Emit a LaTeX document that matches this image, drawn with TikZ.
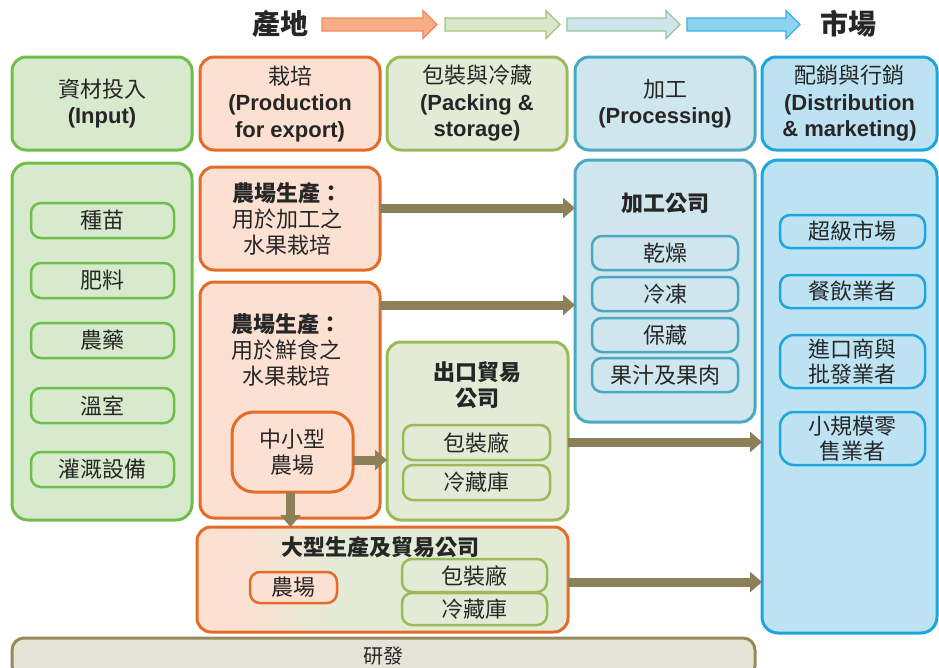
\documentclass[tikz,border=0pt]{standalone}
\usepackage{fontspec}
\setmainfont{Liberation Sans}
\newfontfamily\cjk{Noto Sans CJK TC}
\usetikzlibrary{arrows.meta,calc}
\definecolor{txt}{HTML}{262626}
\definecolor{greenB}{HTML}{6EBE49}
\definecolor{greenF}{HTML}{D8EACD}
\definecolor{orangeB}{HTML}{E46C28}
\definecolor{orangeF}{HTML}{FCE1D3}
\definecolor{oliveB}{HTML}{9BBB59}
\definecolor{oliveF}{HTML}{E3EBD7}
\definecolor{tealB}{HTML}{4BA8C0}
\definecolor{tealF}{HTML}{CFE6EE}
\definecolor{blueB}{HTML}{1DA5DF}
\definecolor{blueF}{HTML}{BDE3F3}
\definecolor{resB}{HTML}{958B5A}
\definecolor{resF}{HTML}{E6E3D9}
\definecolor{arrowc}{HTML}{8C8058}
\definecolor{a1F}{HTML}{F8AD86}\definecolor{a1B}{HTML}{EE8C5A}
\definecolor{a2F}{HTML}{DAE7CB}\definecolor{a2B}{HTML}{A5C27A}
\definecolor{a3F}{HTML}{CDE6EE}\definecolor{a3B}{HTML}{9CC59A}
\definecolor{a4F}{HTML}{8DD3F0}\definecolor{a4B}{HTML}{3AB0E2}
\pgfdeclarehorizontalshading{orgreen}{100bp}{color(0bp)=(orangeF); color(25bp)=(orangeF); color(31bp)=(orangeF); color(44bp)=(oliveF); color(100bp)=(oliveF)}
\begin{document}
\begin{tikzpicture}[x=1pt,y=-1pt,
  every node/.style={inner sep=0pt, outer sep=0pt, text=txt, align=center,
    font=\cjk\fontsize{22}{26}\selectfont},
  bigbox/.style={line width=3pt, rounded corners=14pt, anchor=north west},
  item/.style={line width=2.5pt, rounded corners=10pt, anchor=north west},
  gb/.style={draw=greenB, fill=greenF},
  ob/.style={draw=orangeB, fill=orangeF},
  lb/.style={draw=oliveB, fill=oliveF},
  tb/.style={draw=tealB, fill=tealF},
  bb/.style={draw=blueB, fill=blueF},
  ttl/.style={font=\cjk\bfseries\fontsize{22}{26}\selectfont},
  hdr/.style={font=\cjk\fontsize{22}{26.5}\selectfont},
  conn/.style={draw=arrowc, line width=9pt, -{Triangle[length=12pt,width=20pt]}}
]
\useasboundingbox (0,0) rectangle (939,667);

% top titles and flow arrows
\node[font=\cjk\bfseries\fontsize{28}{30}\selectfont] (tsrc) at (280,24) {產地};
\node[font=\cjk\bfseries\fontsize{28}{30}\selectfont] (tdst) at (848,24) {市場};
\foreach \a/\b/\f/\d in {322/437/a1F/a1B, 445/560/a2F/a2B, 567/680/a3F/a3B, 687/800/a4F/a4B}{
  \draw[draw=\d, fill=\f, line width=1.2pt, line join=miter]
    (\a,18) -- (\b-14,18) -- (\b-14,10.5) -- (\b,24.5) -- (\b-14,38.5) -- (\b-14,31) -- (\a,31) -- cycle;
}

% headers
\node[bigbox, gb, minimum width=180pt, minimum height=93pt] (h1) at (12,57) {};
\node[bigbox, ob, minimum width=180pt, minimum height=93pt] (h2) at (200,57) {};
\node[bigbox, lb, minimum width=180pt, minimum height=93pt] (h3) at (387,57) {};
\node[bigbox, tb, minimum width=180pt, minimum height=93pt] (h4) at (575,57) {};
\node[bigbox, bb, minimum width=175pt, minimum height=93pt] (h5) at (762,57) {};
\node[hdr] (h1t) at (h1.center) {資材投入\\{\rmfamily\bfseries (Input)}};
\node[hdr] (h2t) at (h2.center) {栽培\\{\rmfamily\bfseries (Production}\\{\rmfamily\bfseries for export)}};
\node[hdr] (h3t) at (h3.center) {包裝與冷藏\\{\rmfamily\bfseries (Packing \&}\\{\rmfamily\bfseries storage)}};
\node[hdr] (h4t) at (h4.center) {加工\\{\rmfamily\bfseries (Processing)}};
\node[hdr] (h5t) at (h5.center) {配銷與行銷\\{\rmfamily\bfseries (Distribution}\\{\rmfamily\bfseries \& marketing)}};

% inputs column
\node[bigbox, gb, rounded corners=16pt, minimum width=180pt, minimum height=357pt] (inp) at (12,163) {};
\node[item, gb, minimum width=143pt, minimum height=35pt] (i1) at (31,203) {種苗};
\node[item, gb, minimum width=143pt, minimum height=35pt] (i2) at (31,263) {肥料};
\node[item, gb, minimum width=143pt, minimum height=35pt] (i3) at (31,323) {農藥};
\node[item, gb, minimum width=143pt, minimum height=35pt] (i4) at (31,388) {溫室};
\node[item, gb, minimum width=143pt, minimum height=35pt] (i5) at (31,452) {灌溉設備};

% production column
\node[bigbox, ob, minimum width=180pt, minimum height=103pt] (pa) at (200,167) {};
\node (pat) at ($(pa.center)+(-3,0)$) {\textbf{農場生產：}\\用於加工之\\水果栽培};
\node[bigbox, ob, minimum width=180pt, minimum height=236pt] (pb) at (200,282) {};
\node (pbt) at (286,350) {\textbf{農場生產：}\\用於鮮食之\\水果栽培};
\node[item, ob, line width=3pt, rounded corners=22pt, minimum width=121pt, minimum height=80pt] (small) at (232,412) {中小型\\農場};

% export trading company
\node[bigbox, lb, minimum width=181pt, minimum height=178pt] (exp) at (387,342) {};
\node[ttl] (expt) at (477,385.5) {出口貿易\\公司};
\node[item, lb, minimum width=147pt, minimum height=35pt] (e1) at (403,425) {包裝廠};
\node[item, lb, minimum width=147pt, minimum height=35pt] (e2) at (403,465) {冷藏庫};

% processing
\node[bigbox, tb, minimum width=180pt, minimum height=262pt] (proc) at (575,160) {};
\node[ttl] (proct) at (665,203) {加工公司};
\node[item, tb, minimum width=146pt, minimum height=34pt] (p1) at (592,236) {乾燥};
\node[item, tb, minimum width=146pt, minimum height=34pt] (p2) at (592,277) {冷凍};
\node[item, tb, minimum width=146pt, minimum height=34pt] (p3) at (592,318) {保藏};
\node[item, tb, minimum width=146pt, minimum height=34pt] (p4) at (592,358) {果汁及果肉};

% distribution
\node[bigbox, bb, rounded corners=16pt, minimum width=175pt, minimum height=473pt] (dist) at (762,160) {};
\node[item, bb, minimum width=145pt, minimum height=33pt] (d1) at (780,215) {超級市場};
\node[item, bb, minimum width=145pt, minimum height=33pt] (d2) at (780,275) {餐飲業者};
\node[item, bb, rounded corners=14pt, minimum width=145pt, minimum height=53pt, font=\cjk\fontsize{22}{25}\selectfont] (d3) at (780,335) {進口商與\\批發業者};
\node[item, bb, rounded corners=14pt, minimum width=145pt, minimum height=53pt, font=\cjk\fontsize{22}{25}\selectfont] (d4) at (780,412) {小規模零\\售業者};

% large production and trading company
\node[bigbox, draw=orangeB, shading=orgreen, minimum width=371pt, minimum height=105pt] (large) at (197,527) {};
\node[ttl] (larget) at (380,547) {大型生產及貿易公司};
\node[item, ob, minimum width=87pt, minimum height=31pt] (farm) at (250,572) {農場};
\node[item, lb, minimum width=145pt, minimum height=33pt] (l1) at (402,559) {包裝廠};
\node[item, lb, minimum width=145pt, minimum height=32pt] (l2) at (402,593) {冷藏庫};

% research bar
\node[bigbox, draw=resB, fill=resF, rounded corners=12pt, minimum width=743pt, minimum height=40pt] (res) at (12,638) {};
\node[font=\cjk\fontsize{20}{22}\selectfont] (rest) at (383,656) {研發};

% connectors
\draw[conn] ([yshift=10.5pt]pa.east) -- ([yshift=10.5pt]pa.east -| proc.west);
\draw[conn] ([yshift=95pt]pb.east) -- ([yshift=95pt]pb.east -| proc.west);
\draw[conn] ([yshift=-8pt]small.east) -- ([yshift=-8pt]small.east -| exp.west);
\draw[conn] ([xshift=-2pt]small.south) -- ([xshift=-2pt]small.south |- large.north);
\draw[conn] ([yshift=-11pt]exp.east) -- ([yshift=-11pt]exp.east -| dist.west);
\draw[conn] ([yshift=-2.5pt]large.east) -- ([yshift=-2.5pt]large.east -| dist.west);
\end{tikzpicture}
\end{document}
